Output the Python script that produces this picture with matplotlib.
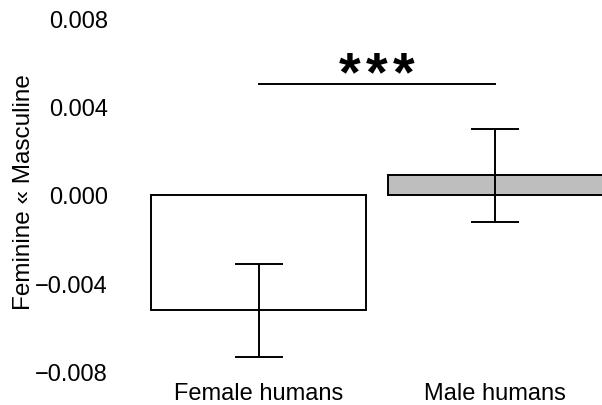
import matplotlib
matplotlib.use("Agg")
import matplotlib.pyplot as plt
import numpy as np

plt.rcParams['font.family'] = ['Liberation Sans', 'DejaVu Sans']

# data
groups = ['Female humans', 'Male humans']
means = [-0.0052, 0.0009]
errors = [0.0021, 0.0021]
colors = ['white', '#BEBEBE']
yticks = [-0.008, -0.004, 0.000, 0.004, 0.008]
sig_y = 0.0050
n_stars = 3

fig = plt.figure(figsize=(6.02, 4.06), dpi=100)
ax = fig.add_axes([129.5 / 602, 33 / 406, 473 / 602, 354 / 406])

# R barplot style: width 1, space 0.1
x = 0.1 + np.arange(len(groups)) * 1.1 + 0.5
ax.bar(x, means, width=1.0, color=colors, edgecolor='black', linewidth=1.4, zorder=2)
ax.errorbar(x, means, yerr=errors, fmt='none', ecolor='black', elinewidth=1.4,
            capsize=17, capthick=1.4, zorder=3)

# significance bar and stars
ax.plot([x[0], x[1]], [sig_y, sig_y], color='black', linewidth=1.4, clip_on=False)
star_x = x.mean() + (np.arange(n_stars) - (n_stars - 1) / 2) * 0.1256
for sx in star_x:
    ax.text(sx, 0.00478, '*', ha='center', va='baseline',
            fontsize=40, fontweight='bold', clip_on=False)

ax.set_xlim(0, 2.2)
ax.set_ylim(-0.008, 0.008)
ax.set_yticks(yticks)
ax.set_yticklabels([('%.3f' % v).replace('-', '\u2212') for v in yticks])
ax.set_xticks(x)
ax.set_xticklabels(groups)
ax.tick_params(axis='y', length=0, pad=15.5, labelsize=17)
ax.tick_params(axis='x', length=0, pad=7, labelsize=17)
for s in ax.spines.values():
    s.set_visible(False)

fig.text(24 / 602, 1 - 192 / 406, 'Feminine \u00ab Masculine', rotation=90,
         ha='center', va='center', fontsize=17.5)

fig.savefig('out.png', dpi=100)
